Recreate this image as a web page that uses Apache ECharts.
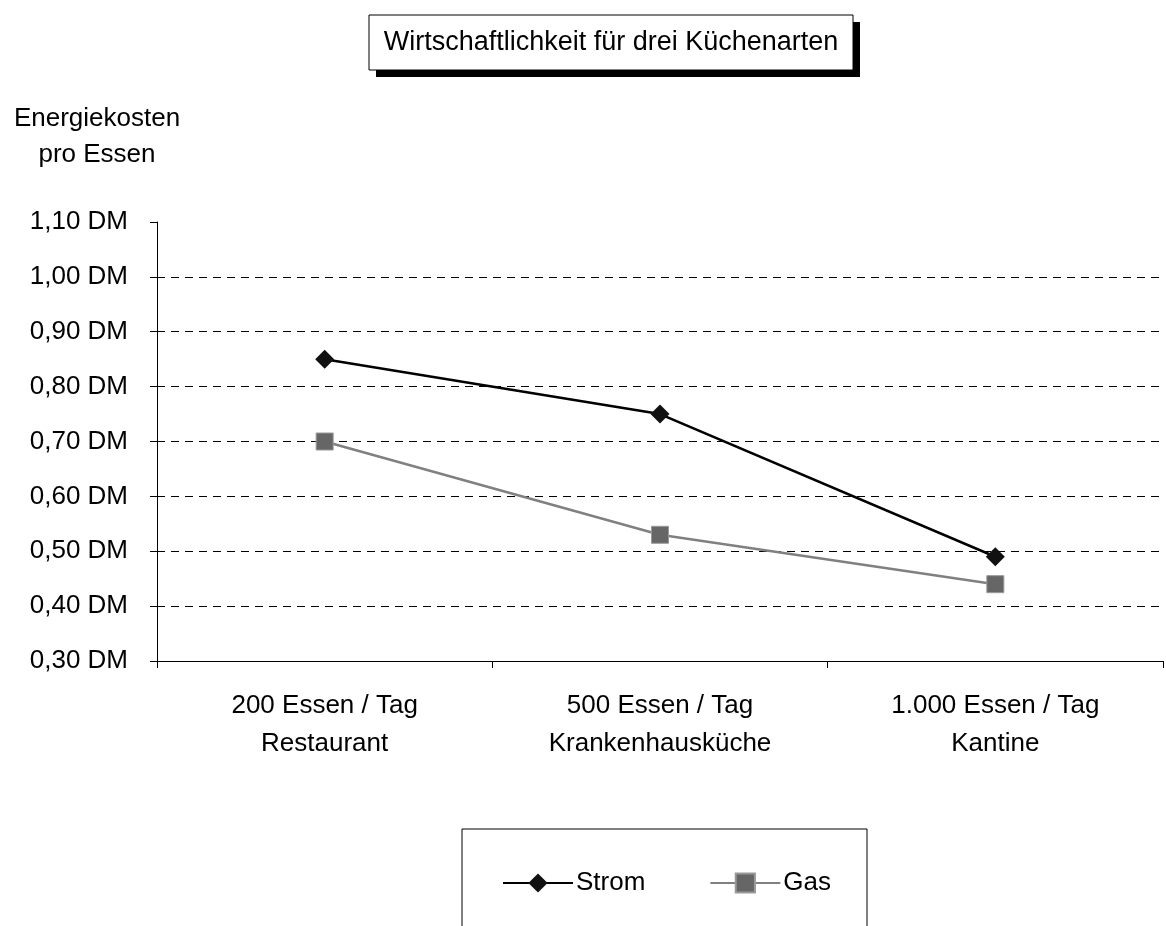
<!DOCTYPE html>
<html>
<head>
<meta charset="utf-8">
<script src="https://cdn.jsdelivr.net/npm/echarts@6/dist/echarts.min.js"></script>
<style>html,body{margin:0;padding:0;background:#fff;}#c{width:1166px;height:926px;}</style>
</head>
<body>
<div id="c"></div>
<script>
const categories = ['200 Essen / Tag\nRestaurant', '500 Essen / Tag\nKrankenhausküche', '1.000 Essen / Tag\nKantine'];
const strom = [0.85, 0.75, 0.49];
const gas = [0.70, 0.53, 0.44];
const titleText = 'Wirtschaftlichkeit für drei Küchenarten';
const yAxisTitle = 'Energiekosten\npro Essen';

const FONT = "'Liberation Sans', Arial, sans-serif";
const FS = 26;
const chart = echarts.init(document.getElementById('c'));
chart.setOption({
  backgroundColor: '#fff',
  animation: false,
  textStyle: { fontFamily: FONT, color: '#000' },
  graphic: [
    { type: 'rect', shape: { x: 376, y: 22, width: 484, height: 55 },
      style: { fill: '#000' }, z: 10 },
    { type: 'rect', shape: { x: 369, y: 15, width: 484, height: 55 },
      style: { fill: '#fff', stroke: '#000', lineWidth: 1 }, z: 11 },
    { type: 'text', x: 611, y: 43, z: 12,
      style: { text: titleText, font: '27px ' + FONT, fill: '#000', align: 'center', verticalAlign: 'middle' } },
    { type: 'text', x: 97, y: 101,
      style: { text: yAxisTitle, font: FS + 'px ' + FONT, fill: '#000', align: 'center', lineHeight: 36 } },
    { type: 'rect', shape: { x: 462, y: 829, width: 405, height: 200 },
      style: { fill: '#fff', stroke: '#000', lineWidth: 1 }, z: -1 }
  ],
  legend: {
    top: 865, left: 497,
    itemWidth: 70, itemHeight: 24, itemGap: 64,
    textStyle: { fontFamily: FONT, fontSize: FS, color: '#000', padding: [0, 0, 0, -2] },
    data: ['Strom', 'Gas']
  },
  grid: { left: 157, right: 3, top: 222, bottom: 265, containLabel: false },
  xAxis: {
    type: 'category', data: categories, boundaryGap: true,
    axisLine: { lineStyle: { color: '#000', width: 1 } },
    axisTick: { show: true, length: 7, lineStyle: { color: '#000' } },
    axisLabel: { fontFamily: FONT, fontSize: FS, color: '#000', margin: 26, lineHeight: 38 }
  },
  yAxis: {
    type: 'value', min: 0.3, max: 1.1, interval: 0.1,
    axisLine: { show: true, lineStyle: { color: '#000', width: 1 } },
    axisTick: { show: true, length: 7, lineStyle: { color: '#000' } },
    axisLabel: { fontFamily: FONT, fontSize: FS, color: '#000', margin: 29,
      formatter: v => v.toFixed(2).replace('.', ',') + ' DM' },
    splitLine: { show: true, showMinLine: false, showMaxLine: false,
      lineStyle: { color: '#000', type: [8, 6], width: 1 } }
  },
  series: [
    { name: 'Strom', type: 'line', data: strom,
      symbol: 'diamond', symbolSize: 19,
      lineStyle: { color: '#000', width: 2.5 },
      itemStyle: { color: '#111' } },
    { name: 'Gas', type: 'line', data: gas,
      symbol: 'rect', symbolSize: 17,
      lineStyle: { color: '#808080', width: 2.5 },
      itemStyle: { color: '#666', borderColor: '#999', borderWidth: 1 } }
  ]
});
</script>
</body>
</html>
